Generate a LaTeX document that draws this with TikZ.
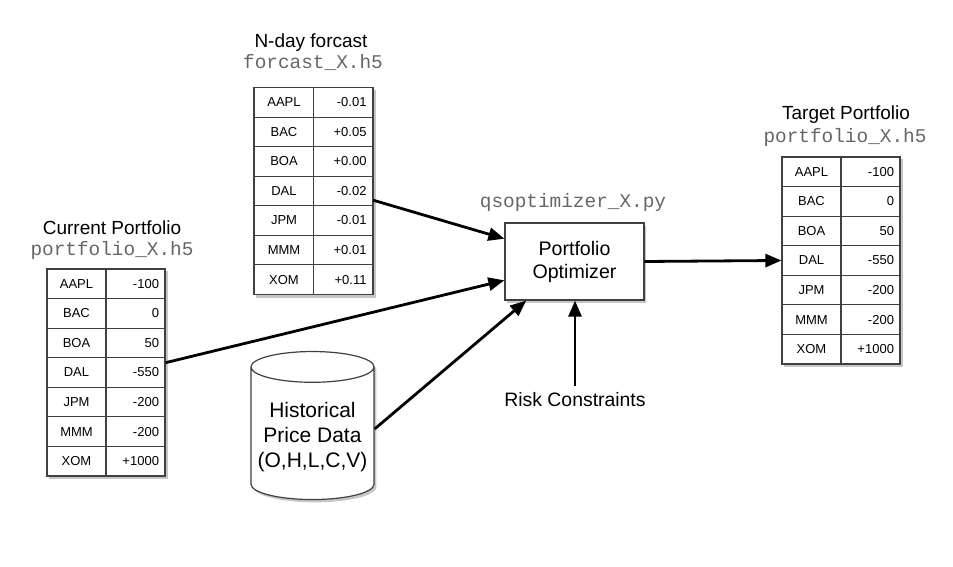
\documentclass[tikz,border=0pt]{standalone}
\usepackage{fontspec}
\setmainfont{Liberation Sans}
\setmonofont{Liberation Mono}
\usetikzlibrary{arrows.meta,matrix,shadows,shapes.geometric}

\tikzset{
  shade/.style={drop shadow={shadow xshift=1.2pt,shadow yshift=-1.4pt,opacity=.45}},
  cell/.style={draw=black!75,line width=.6pt,minimum height=14.75pt,text width=23.5pt,
    inner xsep=3pt,inner ysep=0pt,align=center,font=\fontsize{6.5}{7.5}\selectfont},
  valcell/.style={cell,align=right},
  tbl/.style={matrix of nodes,inner sep=0pt,column sep=-.6pt,row sep=-.6pt,
    draw=black!75,line width=.6pt,fill=white,shade,
    nodes={cell},column 2/.style={nodes={valcell}}},
  ttl/.style={font=\fontsize{9.5}{11}\selectfont},
  file/.style={text=black!60,font=\ttfamily\fontsize{9.7}{11}\selectfont},
  flow/.style={-{Triangle[length=8pt,width=6.5pt]},line width=1.4pt},
}

\begin{document}
\begin{tikzpicture}[x=.5pt,y=-.5pt]
\useasboundingbox (0,0) rectangle (953,567);
%
       \node [ttl] at (311,43) (fcttl) {N-day forcast};
       \node [file] at (313,63) (fcfile) {forcast\_X.h5};
       \matrix [tbl] at (313.5,191) (fc) {
          AAPL & -0.01 \\ BAC & +0.05 \\ BOA & +0.00 \\ DAL & -0.02 \\
          JPM & -0.01 \\ MMM & +0.01 \\ XOM & +0.11 \\};
%
       \node [ttl] at (112,228) (curttl) {Current Portfolio};
       \node [file] at (112,250) (curfile) {portfolio\_X.h5};
       \matrix [tbl] at (106,372.5) (cur) {
          AAPL & -100 \\ BAC & 0 \\ BOA & 50 \\ DAL & -550 \\
          JPM & -200 \\ MMM & -200 \\ XOM & +1000 \\};
%
       \node [ttl] at (846,115) (tgtttl) {Target Portfolio};
       \node [file] at (845,137) (tgtfile) {portfolio\_X.h5};
       \matrix [tbl] at (841,260.5) (tgt) {
          AAPL & -100 \\ BAC & 0 \\ BOA & 50 \\ DAL & -550 \\
          JPM & -200 \\ MMM & -200 \\ XOM & +1000 \\};
%
       \node [file] at (573,202) (optfile) {qsoptimizer\_X.py};
       \node [draw=black!75,line width=.6pt,fill=white,shade,minimum width=69.5pt,minimum height=38.5pt,
              align=center,font=\fontsize{9.8}{11.5}\selectfont] at (574.5,261.5) (opt) {Portfolio\\Optimizer};
       \node [font=\fontsize{9.7}{11}\selectfont] at (575,400) (risk) {Risk Constraints};
       \node [cylinder,shape border rotate=90,aspect=.25,draw=black!75,line width=.6pt,fill=white,shade,
              minimum width=59.5pt,minimum height=74pt,align=center,
              font=\fontsize{10.5}{12.5}\selectfont] at (312.5,437) (hist) {Historical\\Price Data\\(O,H,L,C,V)};
%
\path[flow] (fc-4-2.-17) edge (opt.162);
\path[flow] (cur-4-2.18) edge (opt.-165);
\path[flow] ([yshift=4pt]hist.east) edge (opt.-141);
\path[flow] (risk.north) edge (opt.south -| risk.north);
\path[flow] (opt.east) edge (tgt-4-1.west);

\end{tikzpicture}
\end{document}
